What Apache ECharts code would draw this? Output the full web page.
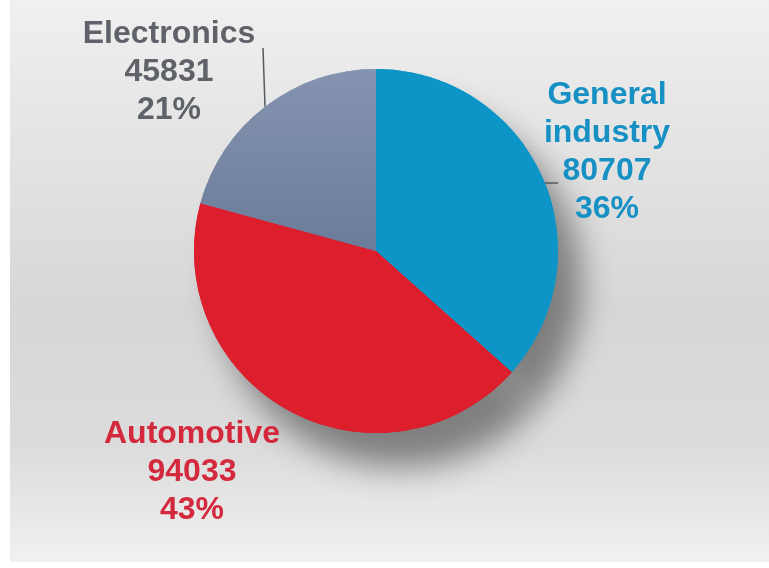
<!DOCTYPE html>
<html>
<head>
<meta charset="utf-8">
<script src="https://cdn.jsdelivr.net/npm/echarts@6/dist/echarts.min.js"></script>
<style>
  html, body { margin: 0; padding: 0; background: #ffffff; }
  #chart {
    width: 769px; height: 568px;
    background-image: linear-gradient(to bottom, #f0f0f0 0%, #e4e4e4 25%, #d7d7d7 55%, #dcdcdc 80%, #f1f1f1 100%);
    background-repeat: no-repeat;
    background-position: 10px 0;
    background-size: 759px 562px;
  }
</style>
</head>
<body>
<div id="chart"></div>
<script>
// Market segments (clockwise from 12 o'clock)
const categories = ['General industry', 'Automotive', 'Electronics'];
const values = [80707, 94033, 45831];

const sliceColors = [
  '#0c95c6',
  '#dd1e2d',
  { type: 'linear', x: 0, y: 0, x2: 0, y2: 1,
    colorStops: [{ offset: 0, color: '#8594b0' }, { offset: 1, color: '#6a7c99' }] }
];
const labelColors = ['#1790c4', '#d4283c', '#5f6369'];

// Pie geometry
const CX = 376, CY = 251, R = 182;
const W = 769, H = 568;

// Label block centres and leader-line routing
const labelSpots = [
  { x: 607, y: 152, line: 'h', lineY: 183, lineEnd: 558 },
  { x: 192, y: 472, line: null },
  { x: 169, y: 72, line: 'v', lineX: 265, lineTop: 48 }
];

const data = categories.map((name, i) => ({
  name: name,
  value: values[i],
  itemStyle: { color: sliceColors[i] },
  label: { color: labelColors[i] }
}));

const chart = echarts.init(document.getElementById('chart'), null, { renderer: 'canvas' });

chart.setOption({
  backgroundColor: 'transparent',
  animation: false,
  series: [
    {
      // soft drop shadow under the pie, thrown down and to the right
      type: 'pie',
      silent: true,
      z: 1,
      center: [CX / W * 100 + '%', CY / H * 100 + '%'],
      radius: R / (Math.min(W, H) / 2) * 100 + '%',
      startAngle: 90,
      clockwise: true,
      label: { show: false },
      labelLine: { show: false },
      emphasis: { disabled: true },
      itemStyle: {
        shadowBlur: 32,
        shadowColor: 'rgba(0,0,0,0.42)',
        shadowOffsetX: 24,
        shadowOffsetY: 34
      },
      data: data.map(d => ({ name: d.name, value: d.value, itemStyle: d.itemStyle }))
    },
    {
      type: 'pie',
      z: 2,
      center: [CX / W * 100 + '%', CY / H * 100 + '%'],
      radius: R / (Math.min(W, H) / 2) * 100 + '%',
      startAngle: 90,
      clockwise: true,
      percentPrecision: 0,
      emphasis: { disabled: true },
      label: {
        show: true,
        fontFamily: "'Liberation Sans', Arial, sans-serif",
        fontWeight: 'bold',
        fontSize: 32,
        lineHeight: 38,
        align: 'center',
        formatter: p => p.name.replace(' ', '\n') + '\n' + p.value + '\n' + p.percent + '%'
      },
      labelLine: {
        show: true,
        lineStyle: { color: '#555a60', width: 1.5 }
      },
      labelLayout: function (params) {
        const s = labelSpots[params.dataIndex];
        const out = { x: s.x, y: s.y, align: 'center', verticalAlign: 'middle' };
        if (s.line === 'v') {
          const ey = CY - Math.sqrt(R * R - (s.lineX - CX) * (s.lineX - CX));
          out.labelLinePoints = [[s.lineX, ey], [s.lineX - 1, (ey + s.lineTop) / 2], [s.lineX - 2, s.lineTop]];
        } else if (s.line === 'h') {
          const ex = CX + Math.sqrt(R * R - (s.lineY - CY) * (s.lineY - CY));
          out.labelLinePoints = [[ex, s.lineY], [(ex + s.lineEnd) / 2, s.lineY], [s.lineEnd, s.lineY]];
        } else {
          out.labelLinePoints = [[s.x, s.y], [s.x, s.y], [s.x, s.y]];
        }
        return out;
      },
      data: data
    }
  ]
});
</script>
</body>
</html>
